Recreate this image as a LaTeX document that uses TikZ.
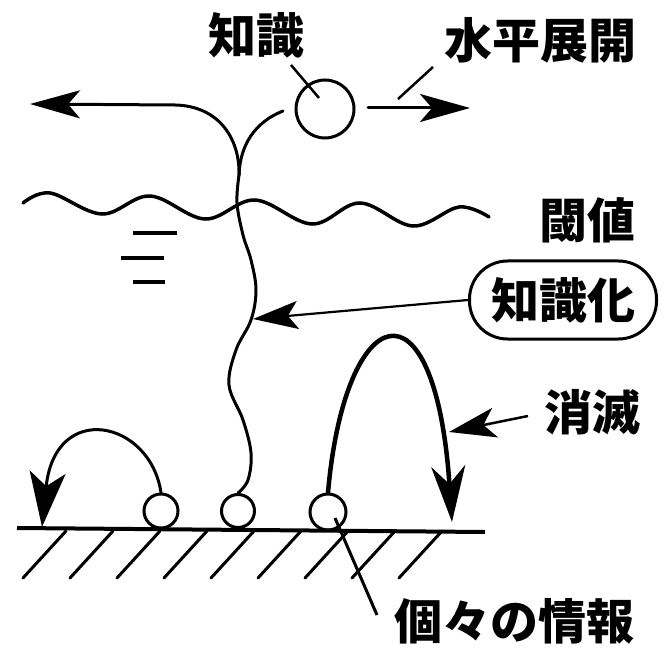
\documentclass[tikz,border=0pt]{standalone}
\usepackage{fontspec}
\newfontfamily\cjk{Noto Sans CJK JP}
\usetikzlibrary{arrows.meta}
\tikzset{
  ln/.style={line width=3pt, line cap=round},
  lbl/.style={inner sep=0pt, font=\cjk\bfseries\fontsize{48}{48}\selectfont},
  hd/.style={-{Stealth[length=50pt, width=28pt, inset=12pt]}},
  bighd/.style={-{Stealth[length=56pt, width=34pt, inset=18pt]}},
  ball/.style={circle, draw, line width=3pt, inner sep=0pt},
}
\begin{document}
\begin{tikzpicture}[x=1pt, y=-1pt]
\useasboundingbox (0,0) rectangle (667,655);
% labels
\node[lbl] (tchishiki) at (256,35) {知識};
\node[lbl] (tsuihei) at (540,40) {水平展開};
\node[lbl] (tshikii) at (587,220) {閾値};
\node[lbl, draw, line width=3pt, rounded corners=38pt, minimum width=187pt, minimum height=78pt] (tka) at (563,300) {知識化};
\node[lbl] (tshometsu) at (592,412) {消滅};
\node[lbl] (tkoko) at (514,621) {個々の情報};
% knowledge circle
\node[ball, minimum size=58pt] (know) at (325,109) {};
% small circles
\node[ball, minimum size=34pt] (c1) at (161,511) {};
\node[ball, minimum size=33pt] (c2) at (238,511) {};
\node[ball, minimum size=36pt] (c3) at (328,512) {};
% ground and hatching
\coordinate (gl) at (17,528);
\coordinate (gr) at (485,532);
\draw[line width=4pt] (gl) -- (gr);
\foreach \x in {66,113,...,442} \draw[ln] (\x,531) -- ++(-43,47);
% threshold wave
\draw[line width=3.5pt, line cap=round] plot[smooth, tension=0.6] coordinates {(23,203) (50,193) (102,214) (150,196) (205,219) (255,200) (312,224) (360,203) (413,226) (459,207) (489,217)};
% water marks
\draw[line width=4pt] (133,233) -- (177,233);
\draw[line width=4pt] (121,258) -- (164,258);
\draw[line width=4pt] (133,282) -- (165,282);
% left arrow and curve
\coordinate (ltip) at (30,104);
\coordinate (join) at (239,175);
\draw[ln, {Stealth[length=50pt, width=28pt, inset=12pt]}-] (ltip) -- (175,105) .. controls (220,106) and (240,140) .. (join);
% right curve from knowledge circle
\draw[ln] (283,111) .. controls (255,122) and (240,145) .. (join);
% stem
\draw[ln] plot[smooth, tension=0.6] coordinates {(239,175) (237,203) (243,235) (251,260) (256,290) (251,320) (236,350) (229,385) (243,420) (251,453) (248,480) (c2.north)};
% right arrow
\coordinate (ra) at (368,108);
\coordinate (rb) at (470,108);
\draw[ln, hd] (ra) -- (rb);
% leader lines
\draw[line width=2.5pt] (291,65) -- (319,98);
\draw[line width=2.5pt] (433,67) -- (398,99);
\coordinate (kt) at (253,319);
\draw[line width=2.2pt, -{Stealth[length=45pt, width=28pt, inset=10pt]}] (tka.west) -- (kt);
\coordinate (st) at (449,432);
\draw[line width=2.5pt, -{Stealth[length=47pt, width=30pt, inset=12pt]}] (528,416) -- (st);
\draw[line width=3pt] (377,615) -- (335,518);
% left hop arc
\coordinate (lt) at (42,527);
\draw[ln, -{Stealth[length=55pt, width=36pt, inset=14pt]}] (c1.north) .. controls (150,420) and (55,400) .. (lt);
% big vanishing arc
\coordinate (bt) at (452,522);
\draw[line width=4.5pt, line cap=round, bighd] (c3.north) .. controls (345,300) and (435,270) .. (bt);
\end{tikzpicture}
\end{document}
